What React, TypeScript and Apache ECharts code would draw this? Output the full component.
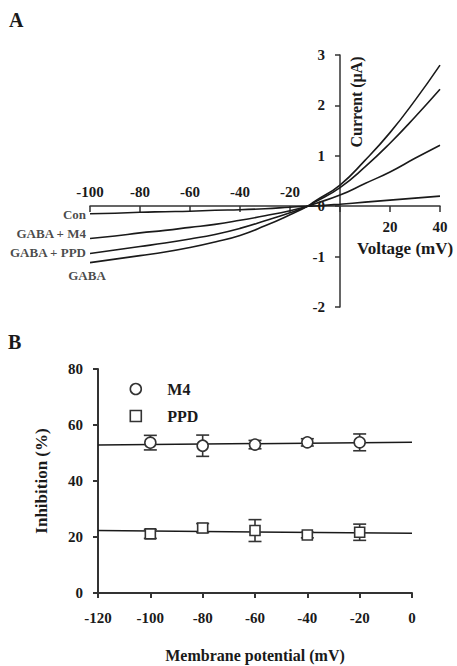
import React, { useEffect, useRef } from 'react';
import * as echarts from 'echarts';

// ---------- Panel A data (I–V curves) ----------
const ivVoltages = [-100, -90, -80, -70, -60, -50, -40, -30, -20, -13, -10, 0, 10, 20, 30, 40];
const ivCon = [-0.15, -0.14, -0.12, -0.11, -0.1, -0.08, -0.07, -0.05, -0.02, 0, 0.005, 0.04, 0.08, 0.12, 0.16, 0.2];
const ivM4 = [-0.64, -0.59, -0.53, -0.48, -0.42, -0.36, -0.28, -0.19, -0.09, 0, 0.05, 0.22, 0.45, 0.68, 0.95, 1.21];
const ivPPD = [-0.94, -0.87, -0.8, -0.73, -0.65, -0.56, -0.44, -0.29, -0.13, 0, 0.08, 0.37, 0.78, 1.25, 1.77, 2.32];
const ivGABA = [-1.12, -1.05, -0.98, -0.91, -0.82, -0.71, -0.58, -0.39, -0.17, 0, 0.1, 0.42, 0.91, 1.46, 2.1, 2.8];
const ivNames = ['Con', 'GABA + M4', 'GABA + PPD', 'GABA'];

// ---------- Panel B data (inhibition vs membrane potential) ----------
const bVoltages = [-100, -80, -60, -40, -20];
const m4Mean = [53.7, 52.6, 53.0, 53.8, 53.8];
const m4Err = [2.6, 3.8, 1.5, 1.3, 3.0];
const ppdMean = [21.1, 23.2, 22.3, 20.7, 21.7];
const ppdErr = [1.6, 1.6, 3.9, 1.0, 2.9];
const fitVoltages = [-120, 0];
const m4Fit = [52.9, 53.8];
const ppdFit = [22.3, 21.3];

const FONT = "'Liberation Serif', 'Times New Roman', serif";
const INK = '#1a1a1a';
const AXIS = '#333';

export default function App() {
  const ref = useRef<HTMLDivElement>(null);
  useEffect(() => {
    if (!ref.current) return;
    const chart = echarts.init(ref.current, undefined, { renderer: 'svg' });

    const ivSets = [ivCon, ivM4, ivPPD, ivGABA];
    const labelPlacement: any[] = [
      { position: 'left', distance: 4, offset: [0, 1] },
      { position: 'left', distance: 4, offset: [0, -5] },
      { position: 'left', distance: 4, offset: [0, -1] },
      { position: 'bottom', distance: 6, offset: [-3, 0] },
    ];

    const labelStyle = { fontFamily: FONT, fontWeight: 'bold' as const, color: INK };

    const lineSeries = ivSets.map((vals, i) => ({
      name: ivNames[i],
      type: 'line',
      xAxisIndex: 0,
      yAxisIndex: 0,
      smooth: 0.5,
      showSymbol: false,
      symbol: 'none',
      lineStyle: { color: INK, width: 1.6 },
      data: ivVoltages.map((v, j) => [v, vals[j]]),
      z: 3,
    }));

    const curveLabelSeries = {
      type: 'scatter',
      xAxisIndex: 0,
      yAxisIndex: 0,
      symbolSize: 0,
      silent: true,
      data: ivSets.map((vals, i) => ({
        value: [ivVoltages[0], vals[0]],
        name: ivNames[i],
        label: {
          show: true,
          formatter: ivNames[i],
          ...labelStyle,
          fontSize: 13,
          ...labelPlacement[i],
        },
      })),
    };

    const errRender = (params: any, api: any) => {
      const x = api.value(0);
      const y = api.value(1);
      const e = api.value(2);
      const top = api.coord([x, y + e]);
      const bot = api.coord([x, y - e]);
      const hw = 6.5;
      const st = { stroke: AXIS, lineWidth: 1.6 };
      return {
        type: 'group',
        children: [
          { type: 'line', shape: { x1: top[0], y1: top[1], x2: bot[0], y2: bot[1] }, style: st },
          { type: 'line', shape: { x1: top[0] - hw, y1: top[1], x2: top[0] + hw, y2: top[1] }, style: st },
          { type: 'line', shape: { x1: bot[0] - hw, y1: bot[1], x2: bot[0] + hw, y2: bot[1] }, style: st },
        ],
      };
    };

    const hiddenAxis = (gridIndex: number, min: number, max: number) => ({
      type: 'value', gridIndex, min, max, show: false, splitLine: { show: false },
    });

    const option: any = {
      animation: false,
      backgroundColor: '#fff',
      graphic: [
        { type: 'text', left: 9, top: 10, style: { text: 'A', font: `bold 20px ${FONT}`, fill: INK } },
        { type: 'text', left: 8, top: 332, style: { text: 'B', font: `bold 20px ${FONT}`, fill: INK } },
        {
          type: 'text', x: 356, y: 102, rotation: Math.PI / 2,
          style: { text: 'Current (μA)', font: `bold 16px ${FONT}`, fill: INK, align: 'center', verticalAlign: 'middle' },
        },
        {
          type: 'text', x: 357, y: 248,
          style: { text: 'Voltage (mV)', font: `bold 17px ${FONT}`, fill: INK, align: 'left', verticalAlign: 'middle' },
        },
      ],
      legend: {
        data: ['M4', 'PPD'],
        orient: 'vertical',
        left: 129.5,
        top: 381,
        padding: 0,
        itemWidth: 11,
        itemHeight: 11,
        itemGap: 11,
        itemStyle: { color: '#fff', borderColor: AXIS, borderWidth: 1.6 },
        textStyle: { ...labelStyle, fontSize: 16, padding: [0, 0, 0, 21] },
      },
      grid: [
        { left: 90, right: 17, top: 55, bottom: 359 },
        { left: 90, right: 17, top: 55, bottom: 460 },
        { left: 90, right: 17, top: 206, bottom: 359 },
        { left: 340, right: 17, top: 55, bottom: 359 },
        { left: 98, right: 45, top: 369, bottom: 73 },
      ],
      xAxis: [
        hiddenAxis(0, -100, 40),
        {
          type: 'value', gridIndex: 1, position: 'bottom', min: -100, max: 40, interval: 20,
          splitLine: { show: false },
          axisLine: { onZero: false, lineStyle: { color: AXIS, width: 1.5 } },
          axisTick: { length: 6, lineStyle: { color: AXIS, width: 1.5 } },
          axisLabel: {
            ...labelStyle, fontSize: 15, margin: 13,
            formatter: (v: number) => (v > 0 ? String(v) : ''),
          },
        },
        {
          type: 'value', gridIndex: 2, position: 'top', min: -100, max: 40, interval: 20,
          splitLine: { show: false },
          axisLine: { show: false, onZero: false },
          axisTick: { show: false },
          axisLabel: {
            ...labelStyle, fontSize: 15, margin: 7,
            formatter: (v: number) => (v < 0 ? String(v) : ''),
          },
        },
        hiddenAxis(3, 0, 40),
        {
          type: 'value', gridIndex: 4, min: -120, max: 0, interval: 20,
          splitLine: { show: false },
          axisLine: { onZero: false, lineStyle: { color: AXIS, width: 2 } },
          axisTick: { length: 5, lineStyle: { color: AXIS, width: 2 } },
          axisLabel: { ...labelStyle, fontSize: 15, margin: 17 },
          name: 'Membrane potential (mV)',
          nameLocation: 'middle',
          nameGap: 54,
          nameTextStyle: { ...labelStyle, fontSize: 16 },
        },
      ],
      yAxis: [
        hiddenAxis(0, -2, 3),
        hiddenAxis(1, 0, 3),
        hiddenAxis(2, -2, 0),
        {
          type: 'value', gridIndex: 3, position: 'left', min: -2, max: 3, interval: 1,
          splitLine: { show: false },
          axisLine: { show: true, onZero: false, lineStyle: { color: AXIS, width: 1.5 } },
          axisTick: { show: true, length: 5, lineStyle: { color: AXIS, width: 1.5 } },
          axisLabel: { ...labelStyle, fontSize: 15, margin: 15 },
        },
        {
          type: 'value', gridIndex: 4, min: 0, max: 80, interval: 20,
          splitLine: { show: false },
          axisLine: { show: true, onZero: false, lineStyle: { color: AXIS, width: 2 } },
          axisTick: { show: true, length: 5, lineStyle: { color: AXIS, width: 2 } },
          axisLabel: { ...labelStyle, fontSize: 15, margin: 15 },
          name: 'Inhibition (%)',
          nameLocation: 'middle',
          nameGap: 48,
          nameTextStyle: { ...labelStyle, fontSize: 17 },
        },
      ],
      series: [
        ...lineSeries,
        curveLabelSeries,
        {
          name: 'M4 fit', type: 'line', xAxisIndex: 4, yAxisIndex: 4, symbol: 'none',
          lineStyle: { color: INK, width: 1.5 },
          data: fitVoltages.map((v, j) => [v, m4Fit[j]]), z: 2,
        },
        {
          name: 'PPD fit', type: 'line', xAxisIndex: 4, yAxisIndex: 4, symbol: 'none',
          lineStyle: { color: INK, width: 1.5 },
          data: fitVoltages.map((v, j) => [v, ppdFit[j]]), z: 2,
        },
        {
          name: 'M4 err', type: 'custom', xAxisIndex: 4, yAxisIndex: 4, renderItem: errRender,
          data: bVoltages.map((v, j) => [v, m4Mean[j], m4Err[j]]), z: 3,
        },
        {
          name: 'PPD err', type: 'custom', xAxisIndex: 4, yAxisIndex: 4, renderItem: errRender,
          data: bVoltages.map((v, j) => [v, ppdMean[j], ppdErr[j]]), z: 3,
        },
        {
          name: 'M4', type: 'scatter', xAxisIndex: 4, yAxisIndex: 4, symbol: 'circle', symbolSize: 11,
          itemStyle: { color: '#fff', borderColor: AXIS, borderWidth: 1.6, opacity: 1 },
          data: bVoltages.map((v, j) => [v, m4Mean[j]]), z: 4,
        },
        {
          name: 'PPD', type: 'scatter', xAxisIndex: 4, yAxisIndex: 4, symbol: 'rect', symbolSize: 10,
          itemStyle: { color: '#fff', borderColor: AXIS, borderWidth: 1.6, opacity: 1 },
          data: bVoltages.map((v, j) => [v, ppdMean[j]]), z: 4,
        },
      ],
    };

    chart.setOption(option);
    return () => chart.dispose();
  }, []);

  return (
    <div
      ref={ref}
      style={{ position: 'fixed', left: 0, top: 0, width: 457, height: 666, background: '#fff' }}
    />
  );
}
